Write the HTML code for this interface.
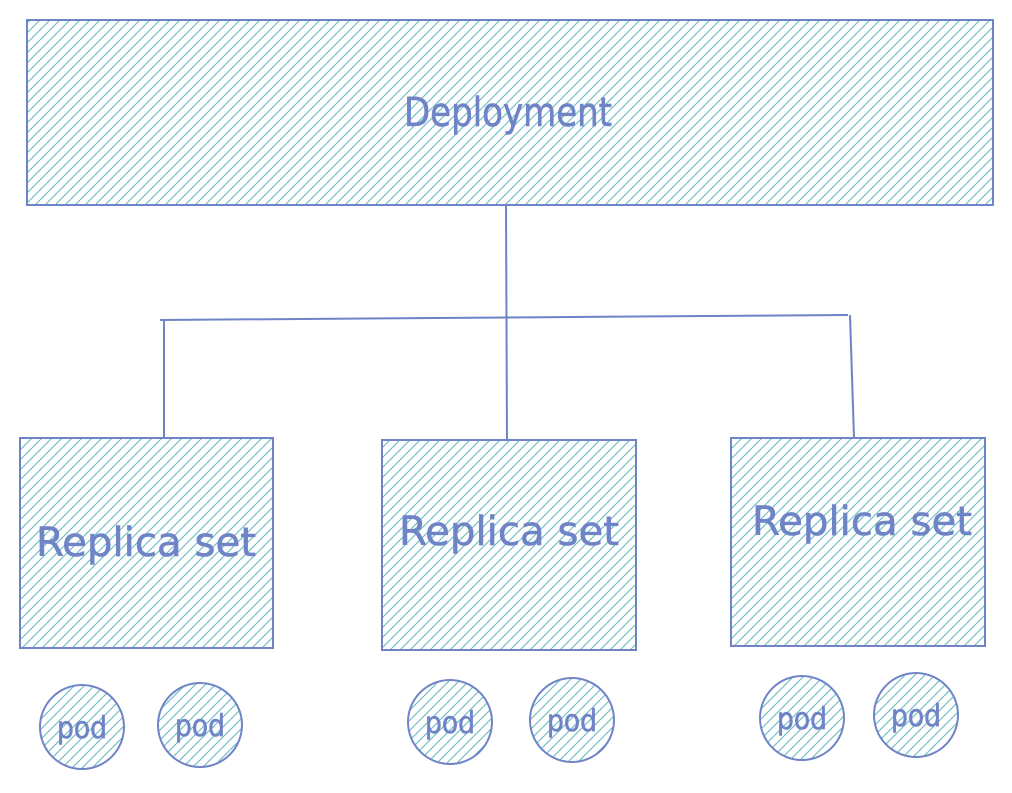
<!DOCTYPE html>
<html><head><meta charset="utf-8"><style>
html,body{margin:0;padding:0;background:#fff;}
svg{display:block;}
text{font-family:"DejaVu Sans","Liberation Sans",sans-serif;fill:#6f84c6;stroke:#6f84c6;stroke-width:0.6;}
</style></head><body>
<svg width="1012" height="793" viewBox="0 0 1012 793" xmlns="http://www.w3.org/2000/svg">
<defs>
<pattern id="h" patternUnits="userSpaceOnUse" width="10" height="10">
<path d="M-1,11 L11,-1 M-1,1 L1,-1 M9,11 L11,9" stroke="#66b9c2" stroke-width="1.1" fill="none"/>
</pattern>
</defs>
<g stroke="#6f84c6" stroke-width="2">
<rect x="27" y="20" width="966" height="185" fill="url(#h)"/>
<rect x="20" y="438" width="253" height="210" fill="url(#h)"/>
<rect x="382" y="440" width="254" height="210" fill="url(#h)"/>
<rect x="731" y="438" width="254" height="208" fill="url(#h)"/>
<circle cx="82" cy="727" r="42" fill="url(#h)"/>
<circle cx="200" cy="725" r="42" fill="url(#h)"/>
<circle cx="450" cy="722" r="42" fill="url(#h)"/>
<circle cx="572" cy="720" r="42" fill="url(#h)"/>
<circle cx="802" cy="718" r="42" fill="url(#h)"/>
<circle cx="916" cy="715" r="42" fill="url(#h)"/>
<g fill="none">
<line x1="506" y1="205" x2="507" y2="440"/>
<line x1="160" y1="320" x2="848" y2="315"/>
<line x1="164" y1="320" x2="164" y2="437"/>
<line x1="850" y1="315" x2="854" y2="438"/>
</g>
</g>
<text x="508" y="126" font-size="40" text-anchor="middle" textLength="208" lengthAdjust="spacingAndGlyphs">Deployment</text>
<text x="146" y="556" font-size="40" text-anchor="middle" textLength="220" lengthAdjust="spacingAndGlyphs">Replica set</text>
<text x="509" y="545" font-size="40" text-anchor="middle" textLength="220" lengthAdjust="spacingAndGlyphs">Replica set</text>
<text x="862" y="535" font-size="40" text-anchor="middle" textLength="220" lengthAdjust="spacingAndGlyphs">Replica set</text>
<g font-size="30" text-anchor="middle">
<text x="82" y="738" textLength="50" lengthAdjust="spacingAndGlyphs">pod</text>
<text x="200" y="736" textLength="50" lengthAdjust="spacingAndGlyphs">pod</text>
<text x="450" y="733" textLength="50" lengthAdjust="spacingAndGlyphs">pod</text>
<text x="572" y="731" textLength="50" lengthAdjust="spacingAndGlyphs">pod</text>
<text x="802" y="729" textLength="50" lengthAdjust="spacingAndGlyphs">pod</text>
<text x="916" y="726" textLength="50" lengthAdjust="spacingAndGlyphs">pod</text>
</g>
</svg>
</body></html>
